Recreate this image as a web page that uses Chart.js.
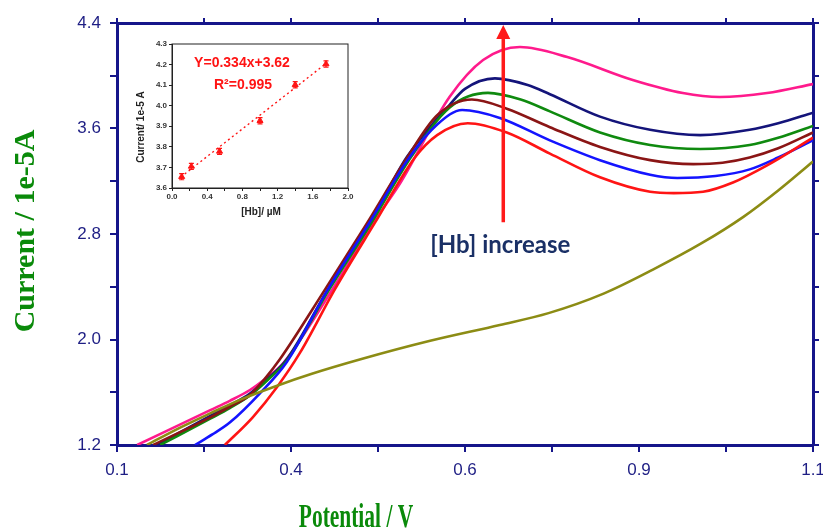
<!DOCTYPE html>
<html>
<head>
<meta charset="utf-8">
<script src="https://cdn.jsdelivr.net/npm/chart.js@4.4.0/dist/chart.umd.min.js"></script>
<style>
  html, body { margin: 0; padding: 0; background: #fff; }
  #wrap { position: relative; width: 823px; height: 531px; }
  #main { position: absolute; left: 0; top: 0; }
  #inset { position: absolute; left: 130px; top: 30px; }
</style>
</head>
<body>
<div id="wrap">
  <canvas id="main" width="823" height="531"></canvas>
  <canvas id="inset" width="230" height="200"></canvas>
</div>
<script>
// Main voltammograms (potential in V, current in 1e-5 A)
const potRed   = [0.255, 0.295, 0.330, 0.363, 0.413, 0.470, 0.528, 0.560, 0.604, 0.660, 0.722, 0.794, 0.866, 0.900, 0.942, 0.985, 1.034, 1.100];
const curRed   = [1.20, 1.41, 1.64, 1.90, 2.38, 2.88, 3.38, 3.55, 3.64, 3.57, 3.41, 3.23, 3.12, 3.11, 3.12, 3.19, 3.32, 3.53];

const potBlue  = [0.212, 0.237, 0.262, 0.305, 0.344, 0.403, 0.462, 0.520, 0.560, 0.596, 0.650, 0.722, 0.794, 0.866, 0.905, 0.960, 1.009, 1.050, 1.100];
const curBlue  = [1.20, 1.28, 1.37, 1.59, 1.83, 2.38, 2.88, 3.38, 3.63, 3.74, 3.68, 3.51, 3.36, 3.25, 3.225, 3.24, 3.29, 3.38, 3.51];

const potBrown = [0.152, 0.234, 0.262, 0.291, 0.312, 0.334, 0.399, 0.459, 0.517, 0.560, 0.610, 0.660, 0.722, 0.794, 0.866, 0.928, 0.970, 1.009, 1.050, 1.100];
const curBrown = [1.20, 1.41, 1.49, 1.58, 1.70, 1.85, 2.38, 2.88, 3.38, 3.70, 3.82, 3.75, 3.61, 3.46, 3.36, 3.33, 3.34, 3.38, 3.45, 3.57];

const potGreen = [0.162, 0.234, 0.262, 0.291, 0.318, 0.344, 0.405, 0.465, 0.522, 0.578, 0.633, 0.680, 0.722, 0.794, 0.866, 0.938, 1.009, 1.050, 1.100];
const curGreen = [1.20, 1.40, 1.48, 1.575, 1.70, 1.84, 2.38, 2.88, 3.38, 3.76, 3.87, 3.82, 3.73, 3.57, 3.475, 3.445, 3.475, 3.53, 3.62];

const potNavy  = [0.157, 0.234, 0.262, 0.291, 0.318, 0.344, 0.403, 0.463, 0.516, 0.578, 0.600, 0.643, 0.690, 0.722, 0.794, 0.866, 0.938, 1.009, 1.050, 1.100];
const curNavy  = [1.20, 1.42, 1.50, 1.59, 1.71, 1.85, 2.38, 2.88, 3.38, 3.78, 3.90, 3.98, 3.93, 3.86, 3.69, 3.59, 3.55, 3.59, 3.64, 3.72];

const potPink  = [0.129, 0.234, 0.262, 0.291, 0.315, 0.339, 0.409, 0.468, 0.507, 0.578, 0.626, 0.679, 0.747, 0.841, 0.913, 0.966, 1.034, 1.100];
const curPink  = [1.20, 1.465, 1.535, 1.617, 1.71, 1.822, 2.375, 2.883, 3.187, 3.84, 4.119, 4.218, 4.142, 3.968, 3.869, 3.839, 3.869, 3.937];

const potOlive = [0.143, 0.190, 0.234, 0.280, 0.330, 0.380, 0.450, 0.550, 0.650, 0.720, 0.800, 0.870, 0.940, 1.000, 1.050, 1.100];
const curOlive = [1.20, 1.33, 1.44, 1.55, 1.65, 1.74, 1.85, 1.99, 2.11, 2.20, 2.35, 2.53, 2.73, 2.93, 3.13, 3.35];

// Axis ticks
const xMajorTicks = [0.1, 0.35, 0.6, 0.85, 1.1];
const xTickLabels = ['0.1', '0.4', '0.6', '0.9', '1.1'];
const yMajorTicks = [1.2, 2.0, 2.8, 3.6, 4.4];
const yTickLabels = ['1.2', '2.0', '2.8', '3.6', '4.4'];

// Annotation (data coords)
const arrowPot = 0.655;
const arrowFrom = 2.89;
const arrowTo = 4.385;
const noteText = '[Hb] increase';

// Inset calibration
const hbConc    = [0.11, 0.22, 0.54, 1.00, 1.40, 1.75];
const hbCurrent = [3.655, 3.705, 3.778, 3.927, 4.102, 4.203];
const hbError   = [0.015, 0.015, 0.015, 0.015, 0.015, 0.015];
const fitConc    = [0.10, 1.75];
const fitCurrent = [3.653, 4.205];
const insetXTicks = [0.0, 0.4, 0.8, 1.2, 1.6, 2.0];
const insetYTicks = [3.6, 3.7, 3.8, 3.9, 4.0, 4.1, 4.2, 4.3];

const colors = {
  frame: '#16168a',
  tick: '#1e1e84',
  title: '#0a8a0a',
  note: '#1a3066',
  arrow: '#ff1a1a',
  red: '#ff1414',
  blue: '#1414ff',
  brown: '#8a1515',
  green: '#0f8a0f',
  navy: '#14147a',
  pink: '#ff1a8c',
  olive: '#8c8c14'
};

const pts = (xs, ys) => xs.map((v, i) => ({ x: v, y: ys[i] }));

// major + minor (midpoint) ticks
const withMinor = (major) => {
  const out = [];
  major.forEach((v, i) => {
    out.push(v);
    if (i < major.length - 1) out.push((v + major[i + 1]) / 2);
  });
  return out;
};
const xTicks = withMinor(xMajorTicks);
const yTicks = withMinor(yMajorTicks);

const line = (label, xs, ys, color) => ({
  label: label,
  data: pts(xs, ys),
  borderColor: color,
  backgroundColor: color,
  borderWidth: 2.6,
  pointRadius: 0,
  cubicInterpolationMode: 'monotone',
  fill: false
});

const axisGrid = (len) => ({
  drawOnChartArea: false,
  color: colors.frame,
  lineWidth: 2,
  tickLength: len
});
const axisBorder = { display: true, color: colors.frame, width: 3 };
const tickFont = { family: "'Liberation Sans', Arial, sans-serif", size: 17 };

// fixed axis sizes, no label overflow padding
const fixSize = (w, h) => (s) => {
  if (w !== null) s.width = w;
  if (h !== null) s.height = h;
  s.paddingLeft = 0; s.paddingRight = 0; s.paddingTop = 0; s.paddingBottom = 0;
};

const overlay = {
  id: 'overlay',
  afterDraw(chart) {
    const { ctx, scales: { x, y } } = chart;

    // y title
    ctx.save();
    ctx.fillStyle = colors.title;
    ctx.font = "bold 30px 'Liberation Serif', 'Times New Roman', serif";
    ctx.textAlign = 'center';
    ctx.textBaseline = 'alphabetic';
    ctx.translate(34, 231);
    ctx.rotate(-Math.PI / 2);
    ctx.fillText('Current / 1e-5A', 0, 0);
    ctx.restore();

    // x title (condensed like the original)
    ctx.save();
    ctx.fillStyle = colors.title;
    ctx.font = "bold 33px 'Liberation Serif', 'Times New Roman', serif";
    ctx.textAlign = 'center';
    ctx.textBaseline = 'alphabetic';
    ctx.translate(356, 527);
    ctx.scale(0.65, 1);
    ctx.fillText('Potential / V', 0, 0);
    ctx.restore();

    // arrow
    const ax = x.getPixelForValue(arrowPot);
    const y0 = y.getPixelForValue(arrowFrom);
    const y1 = y.getPixelForValue(arrowTo);
    ctx.save();
    ctx.strokeStyle = colors.arrow;
    ctx.fillStyle = colors.arrow;
    ctx.lineWidth = 3.5;
    ctx.beginPath();
    ctx.moveTo(ax, y0);
    ctx.lineTo(ax, y1 + 12);
    ctx.stroke();
    ctx.beginPath();
    ctx.moveTo(ax, y1);
    ctx.lineTo(ax - 7, y1 + 14);
    ctx.lineTo(ax + 7, y1 + 14);
    ctx.closePath();
    ctx.fill();

    // note
    ctx.fillStyle = colors.note;
    ctx.font = "bold 24px Lato, 'Open Sans', sans-serif";
    ctx.textAlign = 'center';
    ctx.textBaseline = 'middle';
    ctx.fillText(noteText, ax - 3, y0 + 23);
    ctx.restore();
  }
};

new Chart(document.getElementById('main'), {
  type: 'line',
  data: {
    datasets: [
      line('olive', potOlive, curOlive, colors.olive),
      line('red', potRed, curRed, colors.red),
      line('blue', potBlue, curBlue, colors.blue),
      line('brown', potBrown, curBrown, colors.brown),
      line('green', potGreen, curGreen, colors.green),
      line('navy', potNavy, curNavy, colors.navy),
      line('pink', potPink, curPink, colors.pink)
    ]
  },
  options: {
    responsive: false,
    animation: false,
    layout: { padding: 0, autoPadding: false },
    plugins: { legend: { display: false }, tooltip: { enabled: false } },
    scales: {
      x: {
        type: 'linear', position: 'bottom', min: 0.1, max: 1.1,
        afterBuildTicks: (s) => { s.ticks = xTicks.map(v => ({ value: v })); },
        afterFit: fixSize(null, 86),
        grid: axisGrid(7),
        border: axisBorder,
        ticks: {
          color: colors.tick, font: tickFont, padding: 8, maxRotation: 0, autoSkip: false,
          callback: (v, i) => (i % 2 === 0 ? xTickLabels[i / 2] : '')
        }
      },
      x2: {
        type: 'linear', position: 'top', min: 0.1, max: 1.1,
        afterBuildTicks: (s) => { s.ticks = xTicks.map(v => ({ value: v })); },
        afterFit: fixSize(null, 23),
        grid: axisGrid(5),
        border: axisBorder,
        ticks: { display: false }
      },
      y: {
        type: 'linear', position: 'left', min: 1.2, max: 4.4,
        afterBuildTicks: (s) => { s.ticks = yTicks.map(v => ({ value: v })); },
        afterFit: fixSize(117, null),
        grid: axisGrid(7),
        border: axisBorder,
        ticks: {
          color: colors.tick, font: tickFont, padding: 9, autoSkip: false,
          callback: (v, i) => (i % 2 === 0 ? yTickLabels[i / 2] : '')
        }
      },
      y2: {
        type: 'linear', position: 'right', min: 1.2, max: 4.4,
        afterBuildTicks: (s) => { s.ticks = yTicks.map(v => ({ value: v })); },
        afterFit: fixSize(10, null),
        grid: axisGrid(6),
        border: axisBorder,
        ticks: { display: false }
      }
    }
  },
  plugins: [overlay]
});

// ---- inset ----
const insetDeco = {
  id: 'insetDeco',
  beforeDatasetsDraw(chart) {
    const { ctx, chartArea: a, scales: { x, y } } = chart;
    ctx.save();
    ctx.strokeStyle = '#222';
    ctx.lineWidth = 1;
    ctx.strokeRect(a.left, a.top, a.right - a.left, a.bottom - a.top);
    // error bars
    ctx.strokeStyle = colors.red;
    ctx.lineWidth = 1.2;
    hbConc.forEach((c, i) => {
      const px = x.getPixelForValue(c);
      const top = y.getPixelForValue(hbCurrent[i] + hbError[i]);
      const bot = y.getPixelForValue(hbCurrent[i] - hbError[i]);
      ctx.beginPath();
      ctx.moveTo(px, top); ctx.lineTo(px, bot);
      ctx.moveTo(px - 2.5, top); ctx.lineTo(px + 2.5, top);
      ctx.moveTo(px - 2.5, bot); ctx.lineTo(px + 2.5, bot);
      ctx.stroke();
    });
    ctx.restore();
  },
  afterDraw(chart) {
    const { ctx } = chart;
    ctx.save();
    ctx.fillStyle = colors.red;
    ctx.font = "bold 14px 'Liberation Sans', Arial, sans-serif";
    ctx.textAlign = 'center';
    ctx.textBaseline = 'middle';
    ctx.fillText('Y=0.334x+3.62', 112, 33);
    ctx.fillText('R\u00b2=0.995', 113, 55);

    ctx.fillStyle = '#222';
    ctx.font = "bold 10px 'Liberation Sans', Arial, sans-serif";
    ctx.fillText('[Hb]/ \u00b5M', 131, 182);
    ctx.translate(11, 97);
    ctx.rotate(-Math.PI / 2);
    ctx.fillText('Current/ 1e-5 A', 0, 0);
    ctx.restore();
  }
};

const insetFont = { family: "'Liberation Sans', Arial, sans-serif", size: 8, weight: 'bold' };

new Chart(document.getElementById('inset'), {
  type: 'scatter',
  data: {
    datasets: [
      {
        data: pts(fitConc, fitCurrent),
        showLine: true,
        borderColor: colors.red,
        borderWidth: 1.4,
        borderDash: [2, 3],
        pointRadius: 0
      },
      {
        data: pts(hbConc, hbCurrent),
        pointStyle: 'triangle',
        pointRadius: 3.5,
        backgroundColor: colors.red,
        borderColor: colors.red,
        borderWidth: 1
      }
    ]
  },
  options: {
    responsive: false,
    animation: false,
    layout: { padding: { top: 14, right: 12 }, autoPadding: false },
    plugins: { legend: { display: false }, tooltip: { enabled: false } },
    scales: {
      x: {
        type: 'linear', min: 0, max: 2.0,
        afterBuildTicks: (s) => { s.ticks = withMinor(insetXTicks).map(v => ({ value: v })); },
        afterFit: fixSize(null, 42),
        grid: { drawOnChartArea: false, color: '#222', tickLength: 3 },
        border: { color: '#222', width: 1 },
        ticks: {
          color: '#333', font: insetFont, padding: 1, maxRotation: 0, autoSkip: false,
          callback: (v, i) => (i % 2 === 0 ? insetXTicks[i / 2].toFixed(1) : '')
        }
      },
      y: {
        type: 'linear', min: 3.6, max: 4.3,
        afterBuildTicks: (s) => { s.ticks = insetYTicks.map(v => ({ value: v })); },
        afterFit: fixSize(42, null),
        grid: { drawOnChartArea: false, color: '#222', tickLength: 3 },
        border: { color: '#222', width: 1 },
        ticks: {
          color: '#333', font: insetFont, padding: 2, autoSkip: false,
          callback: (v, i) => insetYTicks[i].toFixed(1)
        }
      }
    }
  },
  plugins: [insetDeco]
});
</script>
</body>
</html>
